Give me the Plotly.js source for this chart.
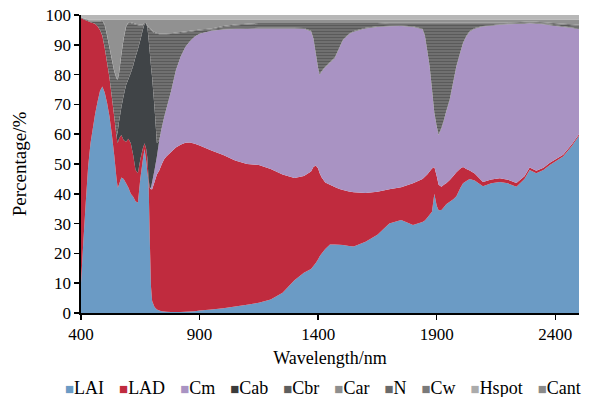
<!DOCTYPE html>
<html>
<head>
<meta charset="utf-8">
<script src="https://cdn.plot.ly/plotly-3.0.1.min.js"></script>
<style>html,body{margin:0;padding:0;background:#fff;}#chart{width:592px;height:397px;}</style>
</head>
<body>
<div id="chart"></div>
<script>
// Wavelength (nm)
const wavelength = [400,410,420,430,440,450,460,470,480,490,
 500,510,520,530,540,550,555,560,570,580,
 590,600,610,620,630,640,650,660,668,675,
 680,685,690,695,700,710,720,730,740,750,
 760,780,800,820,840,860,880,900,950,1000,
 1050,1100,1150,1200,1250,1300,1340,1370,1380,1390,
 1400,1406,1415,1430,1450,1470,1490,1505,1530,1550,
 1600,1650,1700,1750,1800,1840,1850,1860,1870,1880,
 1890,1900,1908,1920,1930,1940,1955,1970,1983,2000,
 2011,2025,2039,2060,2095,2130,2166,2200,2236,2270,
 2292,2320,2350,2377,2433,2470,2500];

// Sensitivity share (%) of each parameter
const LAI = [10,24,37,49,57,62,67,71,74.5,76,
 74,70.5,66,60,53,45,42,43,45.5,45,
 43.5,42,40,39,37.5,37,45,51,55,51,
 47,44,25,9,4,2,1.2,0.8,0.6,0.5,
 0.4,0.3,0.3,0.3,0.4,0.5,0.6,0.8,1.2,1.6,
 2.2,2.8,3.4,4.5,6.8,11,13.5,14.8,15.8,16.8,
 18,19,20,21.5,23,23,22.9,22.8,22.5,22.3,
 23.9,26.3,30,31.2,29.5,30.5,31,32,33,34,
 40,36,34.5,34.6,35.5,36.5,37.3,38.2,39.2,42,
 43.5,44.3,45,44.5,42.5,43.5,44,43.5,42.4,45,
 48,46.9,48,49.7,52.5,56,59.5];

const LAD = [89,74.6,61.2,48.9,40.6,35.3,30,25.2,20.5,17,
 15,13.5,13,12.5,13,14,15,15.5,14.2,13,
 14,16.5,17,14,10.5,10,6.5,4,2,4,
 5,1,17,32.5,37.5,42,45.3,47,49.2,51,
 52.1,53.7,55.2,56.2,56.7,56.7,56.2,55.4,53.3,51.4,
 49,47.2,46.3,43.8,39.7,34.3,32.5,32.7,33.2,32.7,
 30.5,28,25.5,22.3,20,19.3,18.7,18.5,18.3,18.2,
 16.4,14.4,11.5,11,14,14.5,14.7,14.5,14.5,14.5,
 9,10,8.5,7.8,7.5,7,7.3,7.8,8,6.5,
 5.5,4,2.8,2.3,1.5,1.3,1.2,1.2,1.2,0.9,
 0.8,0.8,0.7,0.7,0.6,0.6,0.5];

const Cm = [0,0,0,0,0,0,0,0,0,0,
 0,0,0,0,0,0,0,0,0,0,
 0,0,0,0,0,0,0,0,0,0,
 0,0,0,0.5,2.5,4,6,10.2,12.2,14,
 16,20.5,26,29.5,32.2,34.1,36,37.5,40.2,42.1,
 44.1,45.4,45.8,47.2,49,50.2,49.4,47,43,37.5,
 33.5,32.9,35.5,38.7,41,43.2,47.4,50.3,52.7,53.9,
 55.2,55.3,54.7,54.1,52.5,50.2,47.3,41.5,35.2,26.5,
 18,16.5,16.7,19.6,21.5,24,26.9,31.5,35.5,39,
 41.5,44.5,46.6,48.6,52.1,51.6,51.5,52.2,53.4,51.2,
 48.4,49.4,48.2,46.2,42.9,39,35.2];

const Cab = [0,0,0,0,0,0,0,0,0,0,
 0,0,0,0,0,0,4,5.5,9.3,15,
 19,20,23.5,30,38,41.5,40,39.8,40,42,
 43.8,47,45.5,41,35,21,4.5,0,0,0,
 0,0,0,0,0,0,0,0,0,0,
 0,0,0,0,0,0,0,0,0,0,
 0,0,0,0,0,0,0,0,0,0,
 0,0,0,0,0,0,0,0,0,0,
 0,0,0,0,0,0,0,0,0,0,
 0,0,0,0,0,0,0,0,0,0,
 0,0,0,0,0,0,0];

const Cbr = [0,0,0,0,0.2,0.5,0.8,1.6,2.8,5,
 7.5,9,10,12.5,15,19.5,17.3,16,17.5,19,
 19.5,18.8,16.8,14,10.8,8.1,4.9,1.6,0,0,
 0.4,3.8,8,12,15.5,25,36.7,35.5,31.5,28,
 25,19.1,12.3,8,4.9,3.1,1.8,1.1,0.5,0.3,
 0.2,0.2,0.2,0.2,0.2,0.2,0.2,0.2,0.2,0.2,
 0.2,0.2,0.2,0.2,0.2,0.2,0.2,0.2,0.2,0.2,
 0.2,0.2,0.2,0.2,0.2,0.2,0.2,0.2,0.2,0.2,
 0.2,0.2,0.2,0.2,0.2,0.2,0.2,0.2,0.2,0.2,
 0.2,0.2,0.2,0.2,0.2,0.2,0.2,0.2,0.2,0.2,
 0.2,0.2,0.2,0.2,0.2,0.2,0.2];

const Cw = [0,0,0,0,0,0,0,0,0,0,
 0,0,0,0,0,0,0,0,0,0,
 0,0,0,0,0,0,0,0,0,0,
 0,0,0,0,0,0,0,0,0,0,
 0,0,0,0,0,0,0,0,0,0.6,
 1.0,1.2,1.3,1.3,1.3,1.3,1.4,2.3,4.8,9.8,
 14.8,16.9,15.8,14.3,12.8,11.3,7.8,5.2,3.3,2.4,
 1.3,0.8,0.8,0.7,1.0,1.8,4.0,9,14.3,22,
 30,34.5,37.3,35,32.5,29.5,25.5,19.5,14.3,9.5,
 6.5,4.2,2.6,1.6,0.9,0.6,0.3,0.1,0.1,0.1,
 0.1,0.1,0.2,0.3,0.6,0.8,1.0];

const N = [0.2,0.2,0.3,0.3,0.3,0.3,0.3,0.3,0.3,0.3,
 0.3,0.3,0.3,0.3,0.3,0.3,0.3,0.3,0.3,0.3,
 0.3,0.3,0.3,0.3,0.3,0.3,0.3,0.3,0.3,0.3,
 0.3,0.3,0.3,0.3,0.3,0.3,0.3,0.3,0.3,0.3,
 0.3,0.3,0.3,0.3,0.3,0.3,0.3,0.3,0.3,0.3,
 0.3,0.3,0.3,0.3,0.3,0.3,0.3,0.3,0.3,0.3,
 0.3,0.3,0.3,0.3,0.3,0.3,0.3,0.3,0.3,0.3,
 0.3,0.3,0.3,0.3,0.3,0.3,0.3,0.3,0.3,0.3,
 0.3,0.3,0.3,0.3,0.3,0.3,0.3,0.3,0.3,0.3,
 0.3,0.3,0.3,0.3,0.3,0.3,0.3,0.3,0.3,0.3,
 0.3,0.3,0.3,0.3,0.3,0.3,0.3];

const Car = [0,0,0,0.1,0.2,0.2,0.2,0.2,0.2,0,
 1.5,5,9,13,17,19.5,19.7,18,11.5,6,
 2,0.7,0.7,1,1.2,1.4,1.6,1.6,1.0,1.0,
 1.8,2.2,2.5,3,3.5,4,4.3,4.5,4.5,4.5,
 4.5,4.4,4.2,4,3.8,3.6,3.4,3.2,2.8,2,
 1.5,1.2,1,1,1,1,1,1,1,1,
 1,1,1,1,1,1,1,1,1,1,
 1,1,0.8,0.8,0.8,0.8,0.8,0.8,0.8,0.8,
 0.8,0.8,0.8,0.8,0.8,0.8,0.8,0.8,0.8,0.8,
 0.8,0.8,0.8,0.8,0.8,0.8,0.8,0.8,0.7,0.6,
 0.5,0.6,0.7,0.9,1.2,1.4,1.6];

const Cant = [0.1,0.1,0.2,0.2,0.2,0.2,0.2,0.2,0.2,0.2,
 0.2,0.2,0.2,0.2,0.2,0.2,0.2,0.2,0.2,0.2,
 0.2,0.2,0.2,0.2,0.2,0.2,0.2,0.2,0.2,0.2,
 0.2,0.2,0.2,0.2,0.2,0.2,0.2,0.2,0.2,0.2,
 0.2,0.2,0.2,0.2,0.2,0.2,0.2,0.2,0.2,0.2,
 0.2,0.2,0.2,0.2,0.2,0.2,0.2,0.2,0.2,0.2,
 0.2,0.2,0.2,0.2,0.2,0.2,0.2,0.2,0.2,0.2,
 0.2,0.2,0.2,0.2,0.2,0.2,0.2,0.2,0.2,0.2,
 0.2,0.2,0.2,0.2,0.2,0.2,0.2,0.2,0.2,0.2,
 0.2,0.2,0.2,0.2,0.2,0.2,0.2,0.2,0.2,0.2,
 0.2,0.2,0.2,0.2,0.2,0.2,0.2];

const Hspot = [0.7,1.1,1.3,1.5,1.5,1.5,1.5,1.5,1.5,1.5,
 1.5,1.5,1.5,1.5,1.5,1.5,1.5,1.5,1.5,1.5,
 1.5,1.5,1.5,1.5,1.5,1.5,1.5,1.5,1.5,1.5,
 1.5,1.5,1.5,1.5,1.5,1.5,1.5,1.5,1.5,1.5,
 1.5,1.5,1.5,1.5,1.5,1.5,1.5,1.5,1.5,1.5,
 1.5,1.5,1.5,1.5,1.5,1.5,1.5,1.5,1.5,1.5,
 1.5,1.5,1.5,1.5,1.5,1.5,1.5,1.5,1.5,1.5,
 1.5,1.5,1.5,1.5,1.5,1.5,1.5,1.5,1.5,1.5,
 1.5,1.5,1.5,1.5,1.5,1.5,1.5,1.5,1.5,1.5,
 1.5,1.5,1.5,1.5,1.5,1.5,1.5,1.5,1.5,1.5,
 1.5,1.5,1.5,1.5,1.5,1.5,1.5];

const legendNames = ['LAI','LAD','Cm','Cab','Cbr','Car','N','Cw','Hspot','Cant'];
const xTickVals = [400, 900, 1400, 1900, 2400];
const yTickVals = [0,10,20,30,40,50,60,70,80,90,100];

const series = {LAI, LAD, Cm, Cab, Cbr, Car, N, Cw, Hspot, Cant};
const stackOrder = ['LAI','LAD','Cm','Cab','Cbr','Cw','N','Car','Cant','Hspot'];

const fillColors = {
  LAI:'#6b9bc5', LAD:'#c02b3e', Cm:'#a993c3', Cab:'#404447',
  Cbr:'#6c6c6c', Cw:'#6e6e6e', N:'#6a6a6a', Car:'#919191', Cant:'#8a8a8a', Hspot:'#b7b7b7'
};
const legendColors = {
  LAI:'#6b9bc5', LAD:'#c02b3e', Cm:'#a993c3', Cab:'#3a3a3a', Cbr:'#5e5e5e',
  Car:'#8e8e8e', N:'#6a6a6a', Cw:'#7a7a7a', Hspot:'#ababab', Cant:'#8a8a8a'
};
const striped = {Cbr:true, Cw:true};

const traces = stackOrder.map((name, i) => {
  const t = {
    x: wavelength, y: series[name], name: name,
    type: 'scatter', mode: 'none', stackgroup: 'one',
    fillcolor: fillColors[name], line: {width: 0},
    hoverinfo: 'skip', showlegend: false
  };
  if (i === 0) t.groupnorm = 'percent';
  if (striped[name]) {
    t.fillpattern = {shape: '-', bgcolor: '#777777', fgcolor: '#5a5a5a', size: 3, solidity: 0.5};
  }
  return t;
});

const legendText = legendNames.map(n =>
  '<span style="color:' + legendColors[n] + ';font-size:15px">\u25A0</span>' + n
).join('\u2002\u2004');

const layout = {
  width: 592, height: 397,
  margin: {l: 81, r: 13, t: 15, b: 84},
  paper_bgcolor: '#ffffff', plot_bgcolor: '#ffffff',
  font: {family: 'Liberation Serif, Times New Roman, serif', size: 17, color: '#000'},
  showlegend: false,
  xaxis: {
    range: [400, 2500], tickvals: xTickVals, ticktext: xTickVals.map(String),
    ticks: 'outside', ticklen: 5, tickwidth: 1.5, tickcolor: '#000',
    showline: true, linecolor: '#000', linewidth: 1.6,
    showgrid: false, zeroline: false,
    tickfont: {size: 17},
    title: {text: 'Wavelength/nm', font: {size: 18}, standoff: 8}
  },
  yaxis: {
    range: [0, 100], tickvals: yTickVals, ticktext: yTickVals.map(String),
    ticks: 'outside', ticklen: 5, tickwidth: 1.5, tickcolor: '#000',
    showline: true, linecolor: '#000', linewidth: 1.6,
    showgrid: false, zeroline: false,
    tickfont: {size: 17},
    title: {text: 'Percentage/%', font: {size: 19}, standoff: 14}
  },
  annotations: [{
    xref: 'paper', yref: 'paper', x: 0.485, y: -0.25,
    xanchor: 'center', yanchor: 'middle', showarrow: false,
    text: legendText, font: {size: 18, color: '#000'}
  }]
};

Plotly.newPlot('chart', traces, layout, {displayModeBar: false, staticPlot: true});
</script>
</body>
</html>
